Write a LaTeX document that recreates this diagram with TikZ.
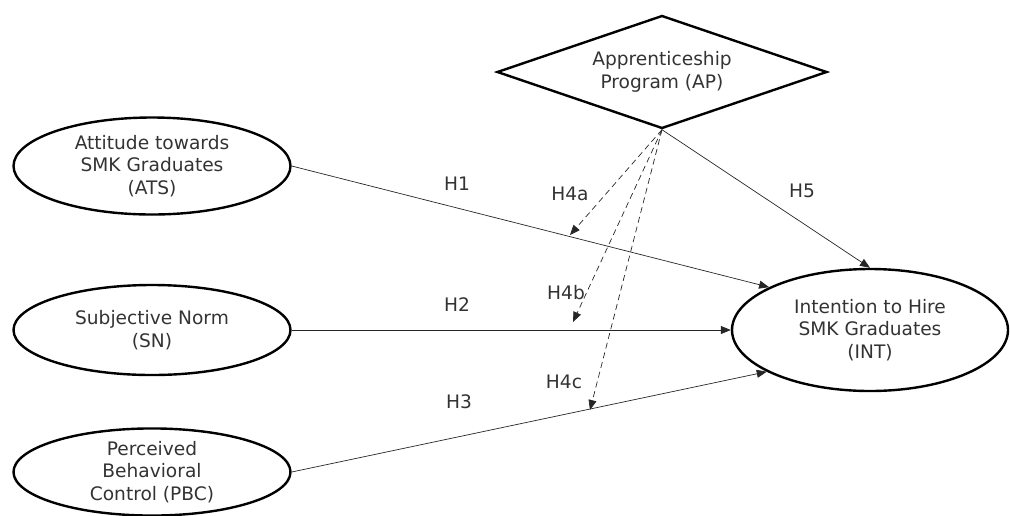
\documentclass[tikz,border=0pt]{standalone}
\usepackage{fontspec}
\setmainfont{DejaVu Sans}
\usetikzlibrary{shapes.geometric, arrows.meta}

\begin{document}
\begin{tikzpicture}[x=1pt, y=-1pt, font=\fontsize{18.6}{22.5}\selectfont,
    construct/.style={ellipse, draw, line width=2.4pt, inner sep=0pt, align=center, text=black!80},
    moderator/.style={diamond, draw, line width=2.4pt, aspect=3, inner sep=0pt, align=center, text=black!80,
        minimum width=330pt, minimum height=113pt},
    hyp/.style={-{Triangle[length=10pt,width=8pt]}, line width=0.7pt, black!85},
    modhyp/.style={hyp, dash pattern=on 6pt off 4pt},
    lbl/.style={text=black!80, inner sep=0pt}]

        % page of the figure (pixel units, y down)
        \useasboundingbox (0,0) rectangle (1010,515);

        % the constructs
        \node[construct, minimum width=277pt, minimum height=97pt] (ats) at (152,166) {Attitude towards\\SMK Graduates\\(ATS)};
        \node[construct, minimum width=277pt, minimum height=90pt] (sn) at (152,330) {Subjective Norm\\(SN)};
        \node[construct, minimum width=277pt, minimum height=82pt] (pbc) at (152,472) {Perceived\\Behavioral\\Control (PBC)};
        \node[construct, minimum width=276pt, minimum height=122pt] (int) at (870,330) {Intention to Hire\\SMK Graduates\\(INT)};
        \node[moderator] (ap) at (662,72) {Apprenticeship\\Program (AP)};

        % direct paths
        \draw[hyp] (ats.east) -- (int.157);
        \draw[hyp] (sn.east) -- (int.west);
        \draw[hyp] (pbc.east) -- (int.202);
        \draw[hyp] (ap.south) -- (int.north);

        % moderating paths, they end on the direct paths
        \coordinate (m1) at (570,235);
        \coordinate (m2) at (573,322);
        \coordinate (m3) at (590,410);
        \foreach \m in {1,2,3}
            \draw[modhyp] (ap.south) -- (m\m);

        % hypothesis labels
        \foreach \name/\x/\y/\txt in {h1/457/184/H1, h2/457/305/H2, h3/459/402/H3, h5/802/191/H5,
                                     h4a/570/194/H4a, h4b/566/293/H4b, h4c/564/382/H4c}
            \node[lbl] (\name) at (\x,\y) {\txt};

\end{tikzpicture}
\end{document}
